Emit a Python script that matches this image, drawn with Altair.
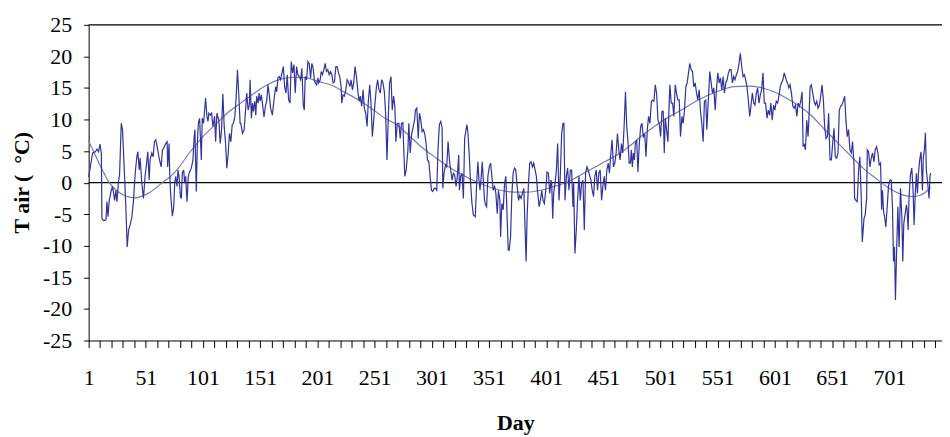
import altair as alt
import pandas as pd

obs_part1 = [
    (1.0, 0.9), (4.5, 4.7), (6.8, 4.9), (8.3, 5.3), (9.7, 4.9), (10.9, 6.1), (12.1, 4.7),
    (12.6, -5.7), (14.1, -6.0), (16.1, -5.9), (17.0, -3.0), (17.9, -5.4), (19.0, -2.8),
    (20.8, -1.2), (21.9, -0.6), (23.7, -2.8), (24.8, -1.2), (25.7, -3.0), (27.2, 0.4),
    (28.0, 1.2), (29.5, 9.4), (30.6, 8.4), (32.4, 1.0), (33.6, -4.3), (34.7, -10.2),
    (35.9, -7.5), (37.3, -6.7), (38.8, -5.4), (40.2, -2.8), (41.7, 1.5), (43.1, 4.1),
    (44.0, 4.9), (45.2, 2.0), (46.0, 3.9), (47.5, -0.1), (48.9, -2.5), (50.4, 1.2),
    (51.8, 3.3), (52.7, 4.9), (53.9, 0.4), (54.7, 3.6), (56.2, 4.7), (57.4, 4.1),
    (58.5, 6.5), (59.7, 6.8), (61.4, 5.2), (62.6, 3.9), (64.4, 2.5), (65.5, 5.2),
    (66.1, 5.3), (68.4, 6.2), (69.6, 6.5), (70.1, 2.5), (71.3, 6.2), (71.9, 1.2),
    (72.5, -1.2), (73.3, -3.3), (74.2, -5.3), (75.4, -3.8), (76.2, -0.1), (77.1, 1.0),
    (78.3, -0.6), (79.1, 2.0), (80.0, 1.0), (81.2, -2.2), (82.0, -2.5), (82.9, 1.5),
    (84.1, 2.0), (84.9, -0.1), (85.8, 1.0), (87.0, -3.0), (88.1, 1.0), (89.3, 1.7),
    (90.7, 2.3), (92.2, 3.6), (93.1, 7.0), (93.9, 8.4), (95.1, -1.4), (96.0, 6.2),
    (96.9, 9.4), (98.0, 10.2), (99.5, 3.6), (100.3, 10.2), (101.5, 9.4), (103.2, 13.4),
    (104.4, 10.5), (105.3, 9.7), (106.1, 11.0), (107.3, 10.7), (108.5, 11.0), (109.6, 8.9),
    (111.1, 10.5), (112.0, 6.5), (113.1, 11.0), (114.8, 9.9), (116.0, 6.2), (117.2, 8.4),
    (118.3, 14.1), (119.5, 8.9), (120.7, 6.2), (121.8, 2.3), (123.0, 4.7), (124.1, 7.8),
    (125.3, 6.5), (126.5, 9.2), (127.6, 9.4), (128.8, 10.5), (130.0, 13.7), (131.1, 17.9),
    (132.3, 13.7), (133.4, 9.4),
]
obs_part2 = [
    (134.0, 9.4), (135.5, 7.8), (136.9, 8.4), (138.1, 11.3), (139.2, 14.2), (140.4, 11.5),
    (141.5, 12.3), (142.1, 16.3), (143.3, 10.2), (144.2, 12.6), (145.0, 11.3), (146.2, 12.9),
    (147.1, 10.7), (147.9, 13.7), (149.1, 12.6), (150.0, 14.2), (150.8, 12.9), (152.0, 13.9),
    (153.2, 12.1), (154.3, 10.4), (155.5, 12.1), (156.6, 12.9), (157.8, 15.5), (159.0, 13.7),
    (160.1, 11.8), (161.6, 10.7), (163.0, 13.1), (164.5, 15.2), (165.4, 14.4), (166.5, 16.6),
    (167.7, 16.8), (168.8, 16.3), (170.0, 17.4), (171.2, 18.4), (172.3, 15.2), (173.5, 14.2),
    (174.6, 17.1), (175.8, 13.1), (177.0, 12.6), (178.1, 19.2), (179.3, 17.4), (180.5, 18.7),
    (181.6, 14.2), (182.8, 18.4), (183.9, 17.1), (185.1, 16.8), (186.3, 16.3), (187.4, 18.1),
    (188.6, 12.3), (189.5, 11.5), (190.3, 16.8), (191.5, 16.3), (192.7, 19.2), (193.8, 18.9),
    (195.0, 16.6), (196.1, 18.9), (197.3, 18.1), (198.5, 16.0), (200.2, 15.5), (201.4, 16.6),
    (202.0, 15.8), (203.4, 16.3), (204.3, 17.6), (205.4, 17.1), (206.6, 17.9), (207.8, 18.9),
    (208.9, 17.6), (210.1, 17.9), (211.3, 17.1), (212.4, 17.6), (213.6, 17.1), (214.7, 15.8),
    (215.9, 16.0), (217.1, 18.4), (218.2, 18.4), (219.4, 17.4), (220.5, 16.8), (221.7, 15.2),
    (222.3, 12.6), (223.4, 13.9), (224.6, 13.7), (225.8, 14.7), (227.0, 16.3), (228.1, 16.0),
    (229.3, 15.2), (230.4, 16.3), (231.6, 14.7), (232.7, 15.8), (233.9, 18.4), (235.1, 16.8),
    (236.2, 14.7), (237.4, 12.9), (238.5, 13.7), (239.7, 12.1), (240.9, 14.7), (242.0, 11.8),
    (243.2, 11.0), (244.4, 8.9), (245.5, 12.9), (246.7, 15.5), (247.8, 12.6), (249.0, 7.3),
    (250.2, 9.9), (251.3, 12.6), (252.5, 15.0), (253.6, 16.3), (254.8, 14.7), (256.0, 14.2),
    (257.1, 16.3), (258.3, 15.8), (259.5, 14.4), (260.6, 11.0), (261.8, 3.6), (263.0, 10.7),
    (264.1, 15.8), (265.3, 16.8), (266.4, 11.5), (267.6, 13.7), (268.7, 12.1), (269.6, 6.5),
]
obs_part3 = [
    (270.8, 9.4), (272.2, 9.4), (273.4, 7.0), (274.5, 9.4), (275.7, 9.5), (276.3, 6.2),
    (277.4, 1.0), (278.6, 2.0), (280.1, 5.2), (280.9, 9.4), (282.1, 4.7), (283.3, 7.6),
    (284.4, 8.6), (285.9, 9.9), (286.7, 11.5), (287.9, 11.8), (289.1, 7.0), (290.2, 11.0),
    (291.4, 9.9), (292.5, 8.1), (293.7, 8.4), (294.9, 7.6), (296.0, 6.2), (297.2, 3.6),
    (298.4, 3.3), (299.5, 1.0), (300.7, -1.2), (301.8, -1.4), (303.0, -0.9), (304.2, -0.9),
    (305.3, -1.2), (306.5, 5.7), (307.6, 9.2), (308.8, 9.7), (310.0, 8.6), (310.6, -0.9),
    (311.7, 1.5), (312.9, 2.8), (314.0, 2.5), (315.2, 6.5), (316.4, 3.6), (317.5, 2.0),
    (318.7, 0.4), (319.8, 1.5), (321.0, 1.2), (322.2, -0.6), (323.3, 1.0), (324.5, 4.4),
    (325.1, -1.2), (326.2, 1.0), (327.4, 1.5), (328.6, -2.5), (329.7, 7.0), (330.9, 8.4),
    (331.7, 9.2), (332.6, 7.8), (333.8, 4.1), (334.9, -0.1), (336.1, -3.3), (337.3, -5.1),
    (339.0, -5.4), (340.2, -0.1), (341.3, 3.3), (342.2, 0.4), (343.1, -1.2), (344.2, 1.0),
    (345.1, 3.3), (346.0, 0.4), (347.1, -2.8), (348.0, -3.5), (348.9, -3.8), (350.0, 1.0),
    (351.2, 2.5), (352.4, 3.1), (353.5, 1.0), (354.7, -1.2), (355.9, -0.6), (357.0, -1.7),
    (358.2, -4.9), (359.3, -1.2), (360.5, -2.8), (361.1, -8.6), (362.2, -3.3), (363.4, -4.3),
    (364.6, -0.1), (365.7, 1.0), (366.9, -5.9), (367.8, -10.7), (368.6, -10.7), (369.8, -8.6),
    (371.0, -1.7), (372.1, 1.5), (373.3, 2.3), (374.4, 2.0), (375.6, -0.6), (376.8, -2.8),
    (377.9, -2.0), (379.1, -2.5), (380.2, -1.7), (381.4, -0.9), (382.3, -5.9), (383.4, -12.5),
    (384.3, -5.4), (385.5, -0.1), (386.6, 3.1), (387.8, 3.3), (389.0, 2.5), (390.1, 3.1),
    (391.3, 2.0), (392.4, 1.0), (393.6, -1.7), (394.8, -3.8), (395.9, -2.8), (397.1, -1.2),
    (398.2, -2.8), (399.4, -3.3), (400.6, -1.2), (401.7, 1.7), (402.9, 1.5), (404.1, -1.7),
    (405.2, 0.4),
]
obs_part4 = [
    (405.8, -0.1), (406.7, -5.7), (407.5, -1.7), (408.7, -0.1), (409.9, 2.0), (411.0, 6.2),
    (412.2, -2.8), (413.4, 1.5), (414.5, 7.8), (415.7, 9.4), (416.5, 9.4), (417.4, -2.8),
    (418.6, 1.0), (419.7, 2.3), (420.9, -1.2), (422.1, 2.0), (423.2, 2.0), (424.4, -3.8),
    (425.0, -0.1), (426.1, -11.2), (427.3, -7.5), (428.4, -2.8), (429.6, 1.0), (430.8, -2.8),
    (431.9, -0.1), (433.1, 0.4), (434.3, -7.5), (435.4, 1.5), (436.6, 2.5), (437.7, 2.0),
    (438.9, 1.2), (440.1, 0.4), (441.2, -1.2), (442.4, -2.2), (443.5, 1.0), (444.7, 2.0),
    (445.9, -1.2), (447.0, 1.5), (448.2, 2.0), (449.4, -2.8), (450.5, -0.6), (451.7, 1.0),
    (452.8, -1.2), (454.0, 2.0), (455.2, 3.1), (456.3, 1.5), (457.5, 4.7), (458.6, 6.8),
    (459.8, 2.5), (461.0, 3.1), (462.1, 4.7), (463.3, 7.8), (464.4, 5.2), (465.6, 3.6),
    (466.8, 6.2), (467.9, 4.7), (469.1, 8.9), (470.3, 14.4), (471.4, 8.9), (472.6, 6.2),
    (473.5, 3.1), (474.6, 3.1), (475.4, 5.2), (476.3, 2.5), (477.2, 4.7), (478.1, 3.6),
    (478.9, 6.2), (480.1, 6.8), (481.2, 1.7), (482.4, 6.2), (483.6, 8.9), (484.7, 9.4),
    (485.9, 7.3), (487.1, 7.8), (488.2, 4.1), (489.4, 8.4), (490.5, 10.5), (491.7, 9.4),
    (492.9, 12.9), (494.0, 13.1), (495.2, 12.9), (496.3, 15.5), (497.5, 14.2), (498.7, 9.9),
    (499.8, 9.4), (501.0, 7.3), (502.2, 11.3), (503.3, 11.3), (504.2, 4.7), (505.1, 10.2),
    (506.2, 8.4), (507.4, 6.5), (508.5, 12.6), (509.1, 15.5), (510.3, 12.6), (511.5, 12.6),
    (512.6, 10.5), (513.8, 15.5), (514.9, 14.2), (516.1, 13.1), (517.3, 13.1), (518.4, 7.3),
    (519.6, 10.5), (520.7, 9.4), (521.9, 11.5), (523.1, 15.2), (524.2, 15.8), (525.4, 17.4),
    (526.5, 18.9), (527.7, 17.9), (528.9, 17.6), (530.0, 15.2), (531.2, 15.8), (532.4, 14.2),
    (533.5, 13.1), (534.7, 14.7), (535.8, 11.5), (537.0, 9.4), (538.2, 6.5), (539.3, 12.9),
    (540.5, 13.1), (541.4, 8.4),
]
obs_part5 = [
    (542.9, 13.7), (544.0, 17.6), (545.2, 15.8), (546.3, 14.2), (547.5, 15.0), (548.7, 11.5),
    (549.8, 14.7), (551.0, 17.4), (552.2, 15.8), (553.3, 16.6), (554.5, 14.7), (555.6, 16.8),
    (556.8, 14.2), (558.0, 15.8), (559.1, 16.3), (560.3, 17.4), (561.4, 17.9), (562.6, 17.9),
    (563.8, 15.8), (564.9, 16.8), (566.1, 16.3), (567.2, 17.1), (568.4, 17.6), (569.6, 18.9),
    (570.7, 20.5), (571.9, 18.4), (573.1, 16.8), (574.2, 17.1), (575.4, 16.3), (576.5, 15.2),
    (577.7, 13.1), (578.9, 10.5), (580.0, 12.1), (581.2, 14.2), (582.4, 12.6), (583.5, 12.3),
    (584.7, 14.2), (585.8, 15.0), (587.0, 12.6), (588.2, 13.9), (589.3, 14.7), (590.5, 17.4),
    (591.6, 12.6), (592.8, 12.6), (594.0, 10.2), (595.1, 11.5), (596.3, 10.7), (597.4, 12.6),
    (598.6, 9.9), (599.8, 12.3), (600.9, 11.5), (602.1, 12.9), (603.3, 12.6), (604.4, 13.7),
    (605.6, 15.2), (606.7, 15.8), (607.9, 16.3), (609.1, 17.4),
    (610.8, 16.3), (611.9, 15.8), (613.1, 15.0), (614.2, 15.5), (615.4, 14.2), (616.6, 12.1),
    (617.7, 11.8), (618.9, 12.3), (620.1, 10.5), (621.2, 12.6), (622.4, 12.1), (623.5, 12.9),
    (624.7, 14.4), (625.6, 5.7), (626.4, 6.2), (627.6, 5.2), (628.8, 9.9), (629.9, 7.3),
    (630.5, 9.4), (631.7, 15.2), (632.8, 15.5), (634.0, 14.2), (635.2, 12.9), (636.3, 12.3),
    (637.5, 12.9), (638.6, 11.8), (639.8, 12.3), (641.0, 13.7), (642.1, 15.5), (643.3, 13.1),
    (644.4, 8.9), (645.6, 7.0), (646.8, 7.3), (647.9, 11.0), (649.1, 3.6), (650.3, 3.6),
    (651.4, 6.2), (652.6, 8.6), (653.7, 4.1), (654.9, 3.9), (656.1, 4.7), (657.2, 11.5),
    (658.4, 12.1), (659.5, 12.3), (660.7, 12.9), (661.9, 13.7), (663.0, 9.9), (664.2, 7.3),
    (665.3, 8.4), (666.5, 5.2), (667.7, 4.7), (668.8, 6.5), (670.0, 3.1), (670.6, -2.5),
    (671.7, -2.8), (672.9, -3.0), (674.1, 2.0), (675.2, 4.1), (676.4, -2.2), (677.3, -9.4),
    (678.8, -5.7), (679.9, -5.1), (681.1, -2.5), (681.7, 5.2), (682.8, 4.9), (684.0, 2.5),
    (685.1, 3.9), (686.3, 4.7), (687.5, 3.3), (688.6, 5.2), (689.8, 5.7), (691.0, 4.7),
    (692.1, 2.8), (693.3, 3.1), (694.2, -4.3), (695.0, -1.2), (695.9, -4.6), (696.8, -5.4),
    (697.9, -7.0), (699.1, -3.8), (700.2, -0.6), (701.4, 0.4), (702.6, 0.4), (703.7, -3.8),
    (704.6, -12.5), (705.5, -10.2), (706.3, -18.6), (707.2, -11.7), (708.4, -3.8), (709.5, -10.2),
    (710.7, -0.9), (711.9, -5.4), (712.7, -12.5), (713.6, -6.5), (714.8, -4.9), (715.9, -3.5),
    (716.5, -4.3), (717.4, -7.5), (718.2, -2.2), (719.4, 1.2), (720.6, 2.3), (721.7, -1.2),
    (722.6, -6.7), (723.5, -2.2), (724.6, 1.5), (725.5, -1.7), (726.4, 1.5), (727.5, 3.6),
    (728.7, 4.9), (729.9, -1.2), (730.7, 4.1), (731.6, 5.2), (732.5, 7.9), (733.3, 2.0),
    (734.5, -0.1), (735.7, -2.5), (736.5, 1.0), (737.1, 1.5),
]

# Smooth seasonal fit
fit_days = [1, 7, 13, 19, 25, 31, 37, 42, 48, 54, 60, 66, 72, 78, 89, 101, 113, 124, 134,
            146, 157, 169, 180, 192, 202, 214, 225, 237, 248, 260, 270, 282, 293, 305, 316,
            328, 338, 350, 361, 373, 384, 396, 406, 417, 429, 441, 452, 464, 474, 485, 497,
            509, 520, 532, 542, 553, 565, 577, 588, 600, 610, 621, 633, 644, 656, 668, 678,
            689, 701, 712, 721, 728, 737]
fit_tair = [6.6, 4.3, 2.0, 0.0, -1.2, -1.9, -2.3, -2.4, -2.1, -1.6, -0.8, 0.1, 0.9, 2.0, 4.7,
            7.3, 9.4, 11.3, 12.6, 14.2, 15.5, 16.4, 16.7, 16.6, 16.0, 15.4, 14.3, 13.1, 11.8,
            10.2, 9.2, 7.3, 5.5, 3.9, 2.5, 1.2, 0.3, -0.6, -1.2, -1.5, -1.5, -1.2, -0.7, -0.1,
            1.0, 2.2, 3.3, 4.5, 5.8, 7.5, 9.1, 10.5, 11.6, 12.9, 13.8, 14.6, 15.2, 15.3, 15.1,
            14.4, 13.5, 12.3, 10.6, 8.5, 6.3, 4.1, 2.3, 0.7, -0.9, -1.9, -2.2, -2.0, -0.8]

y_ticks = [-25, -20, -15, -10, -5, 0, 5, 10, 15, 20, 25]
x_ticks = list(range(1, 742, 10))
x_labels = [1, 51, 101, 151, 201, 251, 301, 351, 401, 451, 501, 551, 601, 651, 701]
ref_levels = [0, 25]

obs = obs_part1 + obs_part2 + obs_part3 + obs_part4 + obs_part5
df = pd.DataFrame(obs, columns=["Day", "Tair"])
fit_df = pd.DataFrame({"Day": fit_days, "Tair": fit_tair})
ref_df = pd.DataFrame({"Tair": ref_levels})

FONT = "Liberation Serif"
xscale = alt.Scale(domain=[1, 747], nice=False, zero=False)
yscale = alt.Scale(domain=[-25, 25], nice=False, zero=False)

label_expr = f"indexof({x_labels}, datum.value) >= 0 ? toString(datum.value) : ''"

x_enc = alt.X(
    "Day:Q", scale=xscale, title="Day",
    axis=alt.Axis(values=x_ticks, labelExpr=label_expr, grid=False, tickSize=7,
                  tickColor="black", domainColor="black", domainWidth=1, tickWidth=1,
                  labelFont=FONT, labelFontSize=22, labelColor="black", labelPadding=20,
                  labelOverlap=False, labelFlush=False,
                  titleFont=FONT, titleFontSize=22, titleFontWeight="bold", titleColor="black",
                  titleY=72, titleBaseline="top"),
)
y_enc = alt.Y(
    "Tair:Q", scale=yscale, title="T air (\u00a0\u00a0°C)",
    axis=alt.Axis(values=y_ticks, grid=False, tickSize=5, tickColor="black",
                  domainColor="black", domainWidth=1, tickWidth=1,
                  labelExpr="toString(datum.value)",
                  labelFont=FONT, labelFontSize=22, labelColor="black", labelPadding=12,
                  labelOverlap=False, labelFlush=False,
                  titleFont=FONT, titleFontSize=22, titleFontWeight="bold", titleColor="black",
                  titleAngle=270, titleAlign="center", titleBaseline="middle",
                  titleX=-67, titleY=158),
)

noisy = alt.Chart(df).mark_line(color="#33339c", strokeWidth=1.2).encode(x=x_enc, y=y_enc)
smooth = alt.Chart(fit_df).mark_line(color="#7a7ab6", strokeWidth=1.2,
                                     interpolate="monotone").encode(x=x_enc, y=y_enc)
refs = alt.Chart(ref_df).mark_rule(color="black", strokeWidth=1.2).encode(y=y_enc)

chart = alt.layer(refs, smooth, noisy).properties(
    width=857, height=317,
    padding={"left": 81, "top": 16, "right": 0, "bottom": 96},
    autosize=alt.AutoSizeParams(type="none"),
    background="white",
).configure_view(stroke=None)

chart.save("out.html", embed_options={"renderer": "svg", "actions": False})
